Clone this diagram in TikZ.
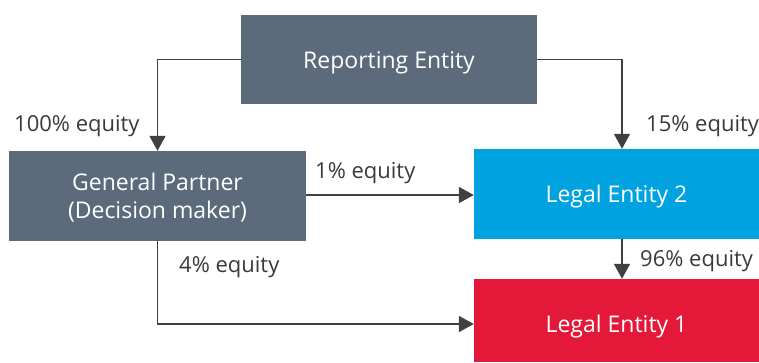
\documentclass[tikz,border=0pt]{standalone}
\usepackage{fontspec}
\setmainfont{Open Sans}
\usetikzlibrary{arrows.meta,calc}
\definecolor{slate}{HTML}{5B6B7C}
\definecolor{cyanbox}{HTML}{00A3E0}
\definecolor{redbox}{HTML}{E4193A}
\definecolor{linegray}{HTML}{404040}
\definecolor{textgray}{HTML}{3A3A3A}
\newcommand{\boxtext}[2]{\raisebox{-#1pt}[0pt][0pt]{#2}}
\tikzset{
  box/.style={rectangle, inner sep=0pt, text=white, align=center, font=\fontsize{23}{28}\selectfont},
  conn/.style={draw=linegray, line width=1.8pt, -{Triangle[width=16pt,length=15pt]}},
  lbl/.style={inner sep=0pt, text=textgray, font=\fontsize{22}{26}\selectfont, anchor=base west}
}
\begin{document}
\begin{tikzpicture}[x=1pt,y=-1pt]
\useasboundingbox (0,0) rectangle (759,362);
\node[box, fill=slate, minimum width=296pt, minimum height=89pt] (RE) at (389,59.5) {\boxtext{8.8}{Reporting Entity}};
\node[box, fill=slate, minimum width=297pt, minimum height=90pt] (GP) at (157.5,196) {\boxtext{22}{\begin{tabular}[b]{@{}c@{}}General Partner\\(Decision maker)\end{tabular}}};
\node[box, fill=cyanbox, minimum width=285pt, minimum height=90pt] (LE2) at (616.5,194) {\boxtext{8.3}{Legal Entity 2}};
\node[box, fill=redbox, minimum width=285pt, minimum height=83pt] (LE1) at (616.5,320.5) {\boxtext{11.8}{Legal Entity 1}};
\coordinate (rx) at (622,0);
\coordinate (bend) at (157.5,324);
\draw[conn] (RE.west) -| (GP.north);
\draw[conn] (RE.east) -| (rx |- LE2.north);
\draw[conn] (GP.east |- 0,195) -- (LE2.west |- 0,195);
\draw[conn] (rx |- LE2.south) -- (rx |- LE1.north);
\draw[conn] (GP.south) -- (bend) -- (LE1.west |- bend);
\node[lbl] (l100) at (14,131) {100\% equity};
\node[lbl] (l15) at (646,131.5) {15\% equity};
\node[lbl] (l1) at (315,178.3) {1\% equity};
\node[lbl] (l4) at (179,272.7) {4\% equity};
\node[lbl] (l96) at (640,266.7) {96\% equity};
\end{tikzpicture}
\end{document}
